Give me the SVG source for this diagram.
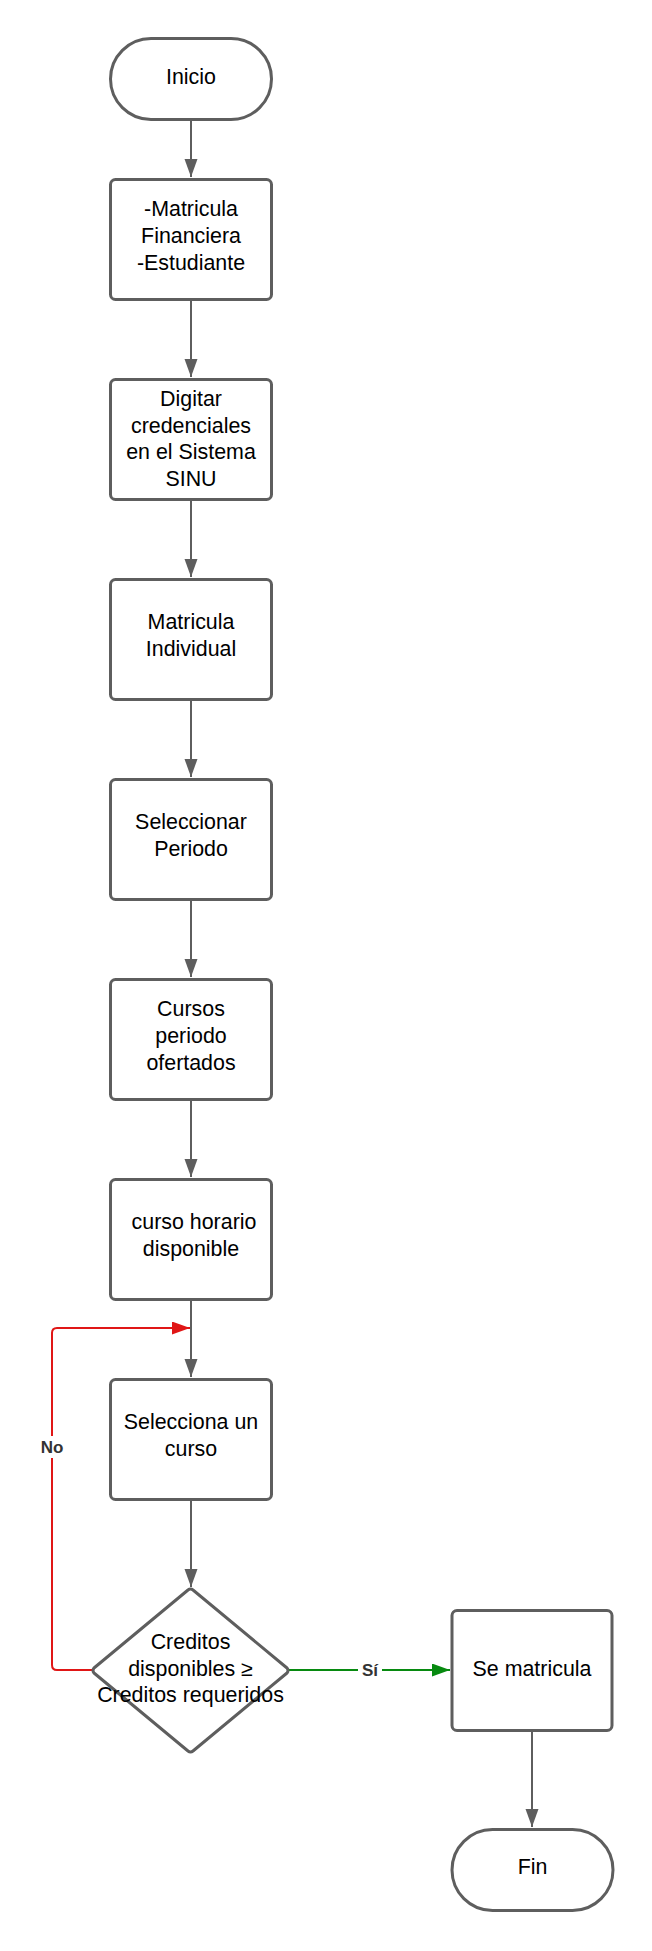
<svg xmlns="http://www.w3.org/2000/svg" width="652" height="1951" viewBox="0 0 652 1951">
<style>
.shape{fill:#ffffff;stroke:#5e5e5e;stroke-width:3}
.t{font-family:"Liberation Sans",Arial,sans-serif;font-size:21.4px;fill:#000;text-anchor:middle}
.c{fill:none;stroke:#5e5e5e;stroke-width:2}
.lbl{font-family:"Liberation Sans",Arial,sans-serif;font-size:17px;font-weight:bold;fill:#333;text-anchor:middle}
</style>
<defs>
<marker id="ag" markerUnits="userSpaceOnUse" markerWidth="20" markerHeight="14" refX="18" refY="6.5" orient="auto"><path d="M0,0 L18,6.5 L0,13 Z" fill="#5e5e5e"/></marker>
<marker id="ar" markerUnits="userSpaceOnUse" markerWidth="20" markerHeight="14" refX="18" refY="6.5" orient="auto"><path d="M0,0 L18,6.5 L0,13 Z" fill="#e01616"/></marker>
<marker id="agr" markerUnits="userSpaceOnUse" markerWidth="20" markerHeight="14" refX="18" refY="6.5" orient="auto"><path d="M0,0 L18,6.5 L0,13 Z" fill="#078a10"/></marker>
</defs>
<rect width="652" height="1951" fill="#ffffff"/>
<g id="connectors">
<path class="c" d="M191,120 V177" marker-end="url(#ag)"/>
<path class="c" d="M191,300 V377" marker-end="url(#ag)"/>
<path class="c" d="M191,500 V577" marker-end="url(#ag)"/>
<path class="c" d="M191,700 V777" marker-end="url(#ag)"/>
<path class="c" d="M191,900 V977" marker-end="url(#ag)"/>
<path class="c" d="M191,1100 V1177" marker-end="url(#ag)"/>
<path class="c" d="M191,1300 V1377" marker-end="url(#ag)"/>
<path class="c" d="M191,1500 V1587" marker-end="url(#ag)"/>
<path class="c" d="M532,1731 V1827" marker-end="url(#ag)"/>
<path d="M92,1670 H57 Q52,1670 52,1665 V1333 Q52,1328 57,1328 H190" fill="none" stroke="#e01616" stroke-width="2" marker-end="url(#ar)"/>
<path d="M289,1670 H450" fill="none" stroke="#078a10" stroke-width="2" marker-end="url(#agr)"/>
<rect x="38" y="1436" width="28" height="22" fill="#ffffff"/>
<text class="lbl" x="52" y="1453">No</text>
<rect x="358" y="1659" width="24" height="20" fill="#ffffff"/>
<text class="lbl" x="370" y="1676">Sí</text>
</g>
<g id="inicio">
<rect class="shape" x="110.5" y="38.5" width="161" height="81" rx="40.5" ry="40.5"/>
<text class="t" x="191" y="84">Inicio</text>
</g>
<g id="matricula-financiera">
<rect class="shape" x="110.5" y="179.5" width="161" height="120" rx="5" ry="5"/>
<text class="t" x="191" y="216">-Matricula</text>
<text class="t" x="191" y="243">Financiera</text>
<text class="t" x="191" y="270">-Estudiante</text>
</g>
<g id="digitar-credenciales">
<rect class="shape" x="110.5" y="379.5" width="161" height="120" rx="5" ry="5"/>
<text class="t" x="191" y="406">Digitar</text>
<text class="t" x="191" y="432.7">credenciales</text>
<text class="t" x="191" y="459.4">en el Sistema</text>
<text class="t" x="191" y="486">SINU</text>
</g>
<g id="matricula-individual">
<rect class="shape" x="110.5" y="579.5" width="161" height="120" rx="5" ry="5"/>
<text class="t" x="191" y="629">Matricula</text>
<text class="t" x="191" y="656">Individual</text>
</g>
<g id="seleccionar-periodo">
<rect class="shape" x="110.5" y="779.5" width="161" height="120" rx="5" ry="5"/>
<text class="t" x="191" y="829">Seleccionar</text>
<text class="t" x="191" y="856">Periodo</text>
</g>
<g id="cursos-periodo">
<rect class="shape" x="110.5" y="979.5" width="161" height="120" rx="5" ry="5"/>
<text class="t" x="191" y="1016">Cursos</text>
<text class="t" x="191" y="1043">periodo</text>
<text class="t" x="191" y="1070">ofertados</text>
</g>
<g id="curso-horario">
<rect class="shape" x="110.5" y="1179.5" width="161" height="120" rx="5" ry="5"/>
<text class="t" x="194" y="1229">curso horario</text>
<text class="t" x="191" y="1256">disponible</text>
</g>
<g id="selecciona-curso">
<rect class="shape" x="110.5" y="1379.5" width="161" height="120" rx="5" ry="5"/>
<text class="t" x="191" y="1429">Selecciona un</text>
<text class="t" x="191" y="1456">curso</text>
</g>
<g id="decision">
<path class="shape" d="M188,1590 Q190.5,1588 193,1590 L287,1668 Q289,1670.5 287,1673 L193,1751 Q190.5,1753 188,1751 L94,1673 Q92,1670.5 94,1668 Z" stroke-linejoin="round"/>
<text class="t" x="190.5" y="1649">Creditos</text>
<text class="t" x="190.5" y="1676">disponibles ≥</text>
<text class="t" x="190.5" y="1702">Creditos requeridos</text>
</g>
<g id="se-matricula">
<rect class="shape" x="452" y="1610.5" width="160" height="120" rx="5" ry="5"/>
<text class="t" x="532" y="1676">Se matricula</text>
</g>
<g id="fin">
<rect class="shape" x="452" y="1829.5" width="161" height="81" rx="40.5" ry="40.5"/>
<text class="t" x="532.5" y="1874">Fin</text>
</g>
</svg>
